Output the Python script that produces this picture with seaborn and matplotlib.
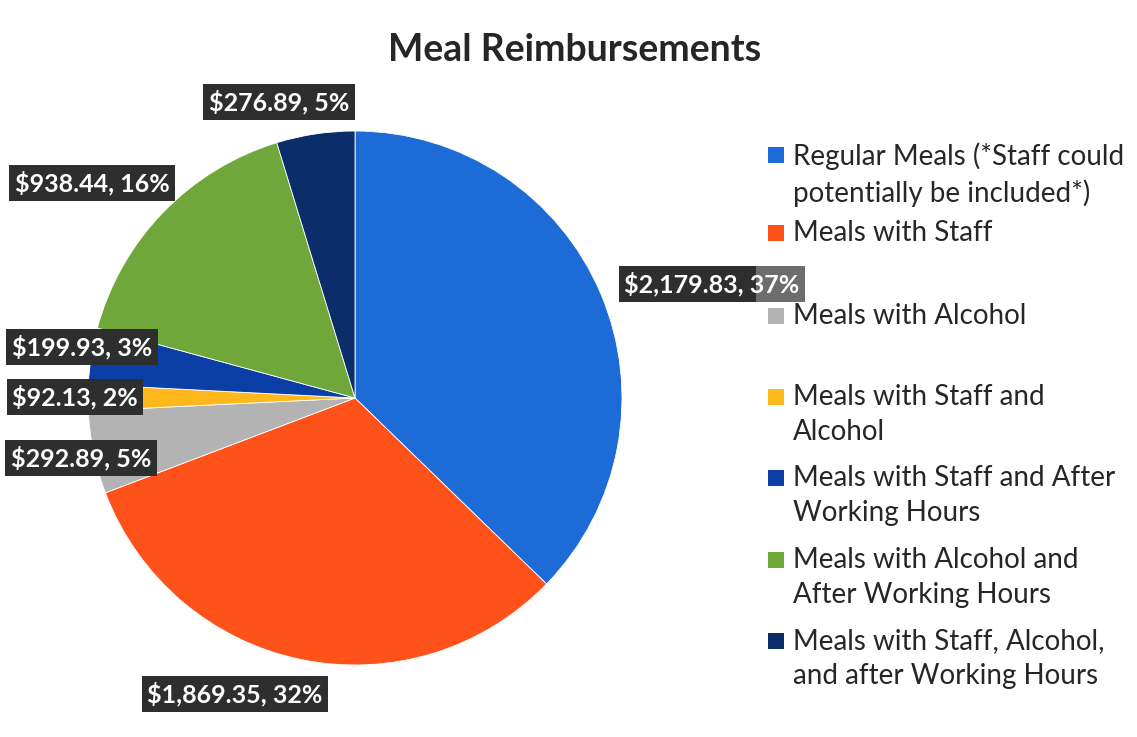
#!/usr/bin/env python

# Meal reimbursement pie chart, recreated with seaborn + matplotlib

import seaborn as sns
from matplotlib import pyplot as plt

# data (clockwise from 12 o'clock)
categories = [
    "Regular Meals (*Staff could\npotentially be included*)",
    "Meals with Staff",
    "Meals with Alcohol",
    "Meals with Staff and\nAlcohol",
    "Meals with Staff and After\nWorking Hours",
    "Meals with Alcohol and\nAfter Working Hours",
    "Meals with Staff, Alcohol,\nand after Working Hours",
]
amounts = [2179.83, 1869.35, 292.89, 92.13, 199.93, 938.44, 276.89]
colors = ["#1C6BD6", "#FF521B", "#B3B3B3", "#FFB81C", "#0C3FA6", "#6FA73A", "#0B2D6A"]

# where the data labels sit (figure pixels, from top-left) -- layout only
label_px = [(712, 284), (235, 694), (81, 458), (75, 397), (82, 347), (92, 183), (279, 102)]
# legend rows (first-line centre, pixels from top)
legend_py = [155, 233, 316, 397, 478, 560, 641]

W, H = 1137, 737

sns.set_theme(style="white")
plt.rcParams['font.family'] = ['Lato', 'DejaVu Sans']

fig = plt.figure(figsize=(W / 100, H / 100), dpi=100)
fig.patch.set_facecolor("white")

# pie centre (355, 398) px, radius 267 px
cx, cy, r = 355, 398, 267
ax = fig.add_axes([(cx - r) / W, (H - cy - r) / H, 2 * r / W, 2 * r / H])
ax.pie(amounts, colors=colors, startangle=90, counterclock=False,
       wedgeprops=dict(edgecolor="white", linewidth=0.6))
ax.set_xlim(-1, 1)
ax.set_ylim(-1, 1)
ax.set_aspect("equal")
ax.axis("off")

total = sum(amounts)
for amt, (px, py) in zip(amounts, label_px):
    txt = f"${amt:,.2f}, {round(100 * amt / total)}%"
    fig.text(px / W, 1 - py / H, txt, ha="center", va="center",
             color="white", fontsize=18, fontweight="bold", zorder=3,
             bbox=dict(boxstyle="square,pad=0.22", facecolor="#2E2E2E", edgecolor="none"))

fig.text(575 / W, 1 - 50 / H, "Meal Reimbursements", ha="center", va="center",
         fontsize=27, fontweight="bold", color="#262626")

# the legend box is semi-transparent and washes out the end of the 37% label
fig.patches.append(plt.Rectangle((756 / W, 1 - 700 / H), (W - 756) / W, 570 / H,
                                 transform=fig.transFigure, facecolor="white",
                                 alpha=0.3, edgecolor="none", zorder=4))

# legend drawn by hand so entries are spread like the original
for cat, col, py in zip(categories, colors, legend_py):
    fig.patches.append(plt.Rectangle((768 / W, 1 - (py + 8) / H), 16 / W, 16 / H,
                                     transform=fig.transFigure, facecolor=col,
                                     edgecolor="none", zorder=5))
    fig.text(793 / W, 1 - (py - 13) / H, cat, ha="left", va="top",
             fontsize=20, color="#262626", linespacing=1.42, zorder=5)

fig.savefig("out.png", dpi=100)
